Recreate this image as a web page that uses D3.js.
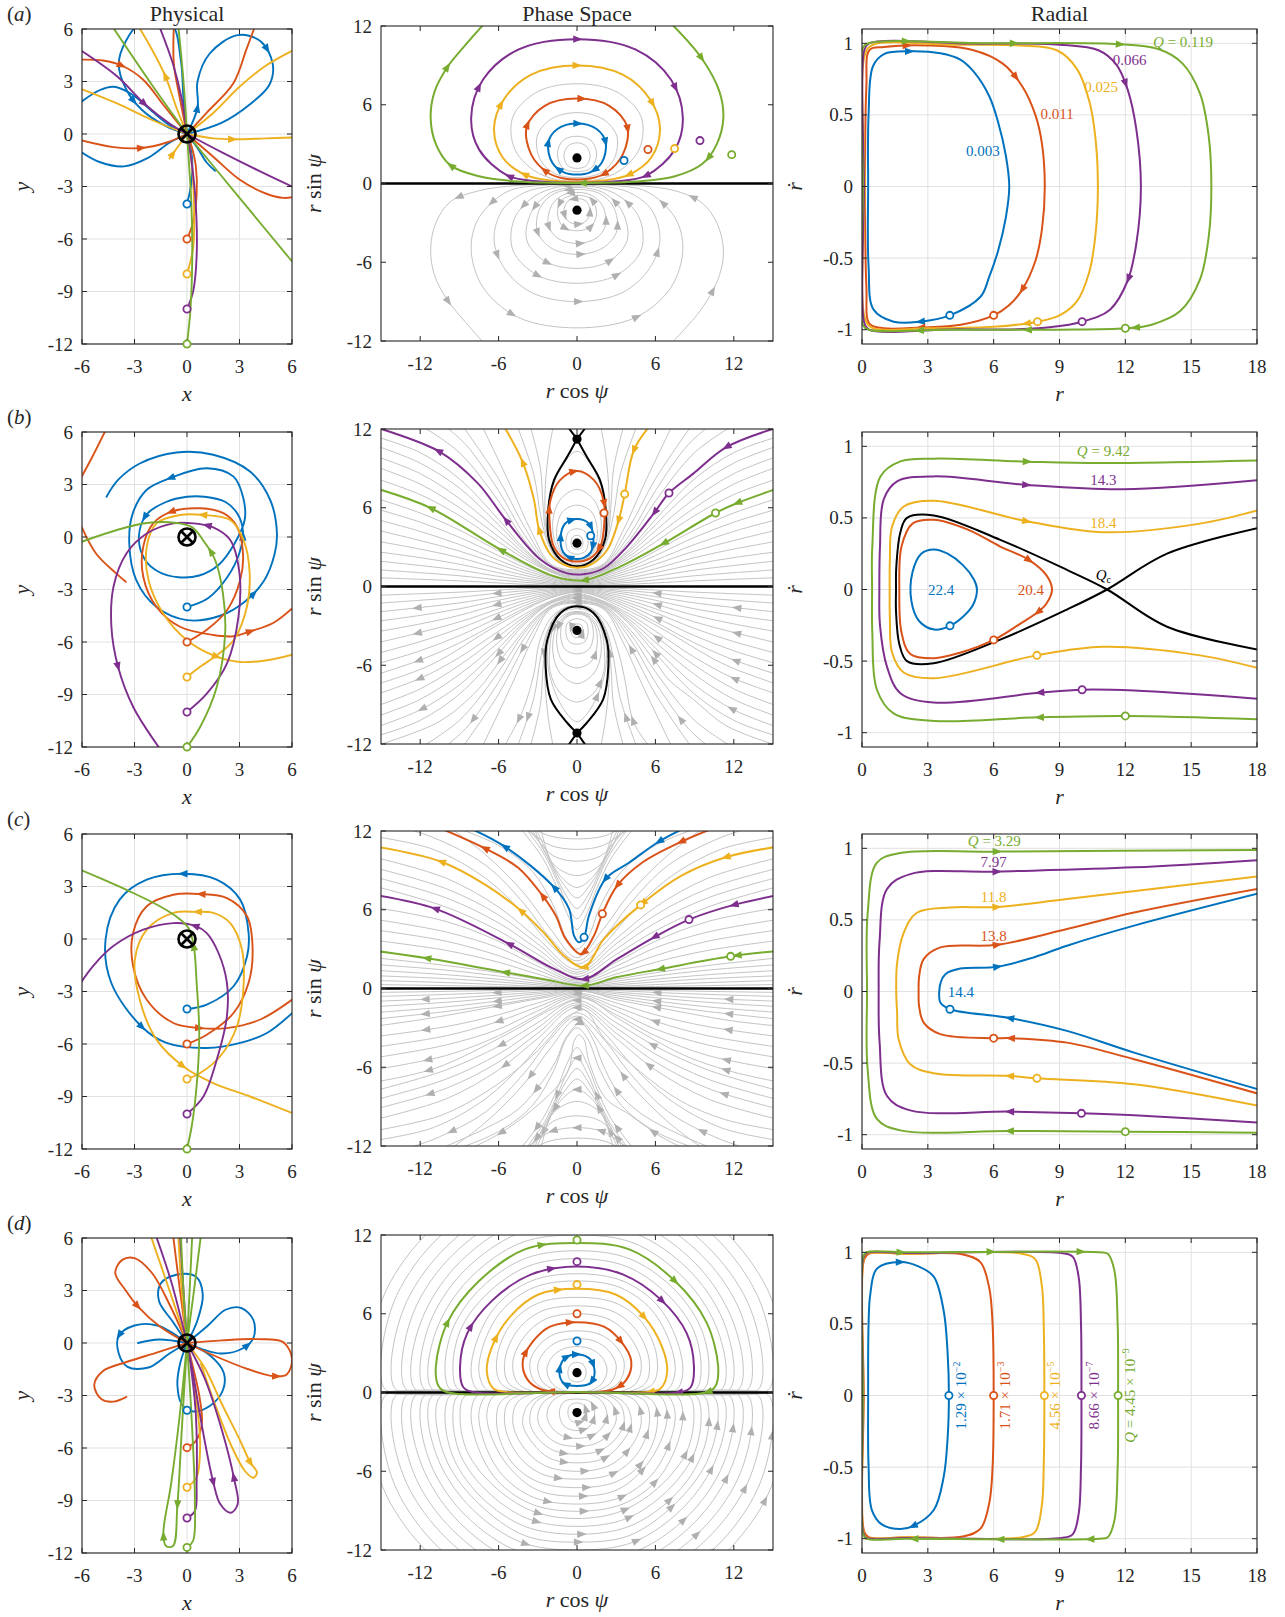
<!DOCTYPE html>
<html>
<head>
<meta charset="utf-8">
<script src="https://cdn.jsdelivr.net/npm/d3@7"></script>
<style>
  body { margin: 0; background: #fff; }
  svg text { font-family: "Liberation Serif", "Times New Roman", serif; fill: #262626; }
</style>
</head>
<body>
<svg id="fig" width="1285" height="1617"></svg>
<script>
// series order everywhere: blue, orange, yellow, purple, green
const seriesColors = ['#0072BD', '#D95319', '#EDB120', '#7E2F8E', '#77AC30']
const grayLine = '#c4c4c4'
const grayArrow = '#b0b0b0'

const physXTicks = [-6, -3, 0, 3, 6]
const physYTicks = [-12, -9, -6, -3, 0, 3, 6]
const phaseTicks = [-12, -6, 0, 6, 12]
const radXTicks = [0, 3, 6, 9, 12, 15, 18]
const radYTicks = [-1, -0.5, 0, 0.5, 1]
const rowLabels = ['(a)', '(b)', '(c)', '(d)']
const colTitles = ['Physical', 'Phase Space', 'Radial']

// ---------------- physical space (segments per series) ----------------
const physA = [
  [[[0,-4],[0.25,-2.8],[0.3,-1.5],[0.15,-0.5],[0,0]],
   [[0,0],[-0.2,2],[-0.35,4.2],[-0.9,6.3],[-2.5,6.5],[-3.5,5.3],[-3.9,4.0],[-3.5,2.6],[-2.6,1.4],[-1.2,0.45],[0,0]],
   [[0,0],[0.6,1.5],[0.6,3.0],[1.3,4.6],[2.9,5.65],[4.2,5.3],[4.9,4.0],[4.7,2.8],[3.6,1.7],[2.0,0.65],[0,0]],
   [[-6.1,1.8],[-5,2.5],[-4.2,2.7],[-3.2,2.3],[-2,1.3],[-1,0.5],[0,0]],
   [[-6.1,-1.0],[-5,-1.6],[-3.6,-1.85],[-2.2,-1.35],[-1,-0.5],[0,0]],
   [[0,0],[0.6,-0.8],[1.1,-1.6],[1.6,-2.1]]],
  [[[0,-6],[0.3,-5.2],[0.55,-3.5],[0.5,-1.8],[0.2,-0.5],[0,0]],
   [[0,0],[-0.4,2],[-0.75,4],[-0.75,6.2]],
   [[0,0],[1.13,1.22],[2.65,2.9],[3.4,4.85],[3.9,6.2]],
   [[-6.1,4.25],[-4.8,4.2],[-3.7,3.9],[-2.5,3.1],[-1.3,1.6],[0,0]],
   [[-6.1,-0.35],[-4.2,-0.75],[-2.6,-0.8],[-1.2,-0.5],[0,0]],
   [[0,0],[1.5,-1.3],[3.0,-2.6],[4.5,-3.4],[5.5,-3.65],[6.1,-3.6]]],
  [[[0,-8],[0.35,-6.5],[0.4,-4],[0.25,-1.5],[0,0]],
   [[0,0],[1.5,-0.25],[2.65,-0.3],[4.5,-0.25],[6.1,-0.2]],
   [[0,0],[1.5,1.2],[3.0,2.7],[4.5,3.9],[6.1,4.8]],
   [[-6.1,2.6],[-4,1.75],[-2,0.8],[0,0]],
   [[0,0],[-0.6,1.5],[-1.26,3.36],[-2.1,5.0],[-2.8,6.2]],
   [[-1.0,-1.4],[-0.5,-0.7],[0,0]]],
  [[[0,-10],[0.35,-9],[0.55,-7],[0.5,-4],[0.25,-1.5],[0,0]],
   [[0,0],[2,-1.05],[4,-2.05],[6.1,-3.05]],
   [[-6.1,4.8],[-4,3.3],[-2.4,1.7],[-1,0.6],[0,0]],
   [[0,0],[-0.3,2],[-0.8,4],[-1.6,6.2]]],
  [[[0,-12],[0.2,-10],[0.3,-7],[0.25,-4],[0.1,-1.5],[0,0]],
   [[0,0],[3,-3.65],[6.1,-7.4]],
   [[0,0],[-2,2.8],[-4.3,6.2]],
   [[0,0],[-0.2,3],[-0.5,6.2]]]
]
const physAArrows = [[[4.56,4.85],[0.6,1.5],[-3.07,1.8]], [[-3.7,3.9],[-2.6,-0.8]], [[2.65,-0.3],[-1.26,3.36],[-0.8,-1.15]], [[-2.4,1.7]], []]

const physB = [
  [[[0,-4],[1.2,-3.5],[2.3,-2.3],[3.0,-0.9],[3.2,0.3],[2.9,1.3],[2.2,2.0],[1.0,2.3],[0,2.3],[-1.2,2.0],[-2.3,1.3],[-2.75,0],[-2.4,-1.3],[-1.6,-2.0],[-0.5,-2.3],[0.7,-2.2],[1.8,-1.6],[2.7,-0.4],[3.3,1.0],[3.2,2.3],[2.66,3.45],[1.13,3.93],[-0.98,3.36],[-2.3,2.7],[-3.1,1.35],[-3.3,-0.36],[-2.9,-2.46],[-1.74,-4.0],[0,-4.75],[1.9,-4.5],[3.3,-3.7],[4.4,-2.5],[5.0,-1.0],[5.14,0.2],[4.76,2.1],[3.6,3.74],[1.5,4.7],[-0.6,4.83],[-2.7,4.2],[-3.94,3.26],[-4.6,2.3]]],
  [[[0,-6],[1.13,-5.3],[2.28,-4.2],[3.04,-2.46],[3.2,-0.94],[2.85,0.6],[2.08,1.36],[0.75,1.64],[-0.88,1.45],[-1.93,0.78],[-2.5,-0.55],[-2.5,-2.27],[-1.74,-4.0],[-0.4,-5.13],[1.5,-5.6],[2.66,-5.67],[3.6,-5.4],[4.95,-4.9],[6.1,-4.0]],
   [[-4.65,6.1],[-5.4,4.6],[-6.1,3.3]],
   [[-6.1,0.75],[-5.2,-0.94],[-4.05,-2.08],[-3.5,-2.56]]],
  [[[0,-8],[0.75,-7.42],[1.7,-6.76],[2.66,-5.9],[3.42,-4.0],[3.58,-2.08],[3.23,-0.17],[2.47,0.97],[0.94,1.26],[-0.4,1.26],[-1.74,0.78],[-2.3,-0.55],[-2.2,-2.46],[-1.36,-4.37],[0,-5.9],[1.5,-6.76],[3.04,-7.14],[4.57,-7.04],[6.1,-6.7]]],
  [[[0,-10],[1.13,-8.95],[2.28,-7.23],[2.94,-4.56],[3.0,-2.08],[2.47,-0.17],[1.5,0.55],[0.36,0.78],[-0.78,0.78],[-2.3,0.2],[-3.46,-0.94],[-4.2,-2.84],[-4.32,-5.13],[-3.94,-7.42],[-3.08,-9.7],[-1.55,-12.1]]],
  [[[0,-12],[0.75,-10.86],[1.7,-8.57],[2.18,-5.5],[2.05,-3.2],[1.6,-1.3],[1.0,-0.3],[0.3,0.55],[-0.6,0.8],[-2.3,0.8],[-4.0,0.4],[-6.1,-0.3]]]
]
const physBArrows = [[[3.23,0],[-0.98,3.36],[-2.5,1.16],[3.9,-3.4]], [[-0.88,1.45],[3.6,-5.4]], [[0.94,1.26],[1.7,-6.9]], [[1.13,0.4],[-3.94,-7.42]], [[1.28,-0.84]]]

const physC = [
  [[[0,-4],[1.13,-3.75],[2.66,-2.7],[3.43,-1.0],[3.52,0.34],[3.04,2.25],[1.7,3.39],[-0.2,3.73],[-2.3,3.39],[-3.85,2.25],[-4.65,0],[-4.33,-2.5],[-2.6,-5.0],[-1.17,-5.94],[1.13,-6.23],[3.04,-5.94],[4.57,-5.37],[6.1,-4.15]]],
  [[[0,-6],[1.13,-5.47],[2.66,-4.23],[3.52,-2.5],[3.75,-0.6],[3.43,1.3],[2.28,2.34],[0.75,2.57],[-0.78,2.53],[-2.3,1.87],[-3.08,0.34],[-3.08,-1.56],[-2.3,-3.47],[-0.78,-4.8],[0.75,-5.09],[2.28,-5.09],[4.19,-4.6],[6.1,-3.4]]],
  [[[0,-8],[0.75,-7.66],[1.9,-6.7],[2.85,-5.0],[3.23,-2.7],[3.14,-0.6],[2.47,0.91],[1.5,1.49],[0.55,1.55],[-0.78,1.49],[-2.3,0.53],[-2.98,-1.18],[-2.7,-3.47],[-1.74,-5.75],[-0.21,-7.28],[1.5,-8.23],[3.6,-9.0],[6.1,-9.98]]],
  [[[0,-10],[0.94,-9.0],[1.7,-6.9],[2.28,-4.42],[2.28,-2.5],[1.8,-0.8],[1.13,0.34],[0.46,0.75],[-0.78,0.91],[-2.5,0.53],[-4.23,-0.42],[-5.38,-1.56],[-6.1,-2.55]]],
  [[[0,-12],[0.27,-10.7],[0.55,-8.4],[0.7,-5.37],[0.55,-2.5],[0.4,-0.5],[0.1,0.6],[-0.5,1.2],[-1.55,1.87],[-3.27,2.72],[-5.0,3.49],[-6.1,3.95]]]
]
const physCArrows = [[[-0.2,3.73],[-2.6,-5.0]], [[0.75,2.57],[0.75,-5.09]], [[0.55,1.52],[-0.21,-7.28]], [[0.46,0.75]], [[0.45,-0.45]]]

const physD = [
  [[[0,0],[-0.4,-1.2],[-0.55,-2.4],[-0.3,-3.5],[0.3,-3.9],[1.3,-3.6],[2.05,-2.7],[2.1,-1.7],[1.3,-0.7],[0,0]],
   [[0,0],[-0.8,1.2],[-1.6,2.4],[-1.5,3.4],[-0.6,3.9],[0.5,3.8],[0.9,2.8],[0.6,1.3],[0,0]],
   [[0,0],[1.9,-0.6],[3.2,-0.3],[3.8,0.3],[3.8,1.3],[3.1,2.0],[2.2,1.9],[1.2,1.0],[0,0]],
   [[0,0],[-1.7,1.0],[-3.0,1.0],[-3.9,0.4],[-3.9,-0.6],[-3.4,-1.36],[-2.2,-1.4],[-1.0,-0.6],[0,0]],
   [[-2.8,0],[-1.6,0.2],[0,0]]],
  [[[0,-5.98],[0.5,-5.6],[0.85,-4.6],[0.7,-3],[0.3,-1.2],[0,0]],
   [[0,0],[-1.74,-0.55],[-3.5,-1.1],[-4.8,-1.6],[-5.3,-2.4],[-4.9,-3.2],[-4.2,-3.35],[-3.46,-3.08]],
   [[0,0],[1.5,-0.7],[3.5,-1.5],[5.0,-1.9],[5.7,-1.8],[6.0,-0.9],[5.5,0.05],[4,0.22],[2,0.15],[0,0]],
   [[0,0],[-0.9,2.0],[-2.0,4.0],[-3.0,4.85],[-3.7,4.75],[-4.1,4.0],[-3.5,3.0],[-2.8,2.08],[-1.55,0.94],[0,0]],
   [[0,0],[-0.4,3],[-0.8,6.2]]],
  [[[0,-8.24],[0.55,-7.66],[0.75,-5.75],[0.5,-3],[0.2,-1],[0,0]],
   [[0,0],[1.0,-1.4],[2.0,-3.5],[3.0,-5.5],[3.6,-6.8],[4.0,-7.4],[3.8,-7.7],[3.3,-7.3],[2.5,-5.8],[1.6,-3.5],[0.8,-1.2]],
   [[0,0],[-1.0,3],[-2.1,6.2]],
   [[0,0],[-0.3,3],[-0.5,6.2]]],
  [[[0,-10],[0.45,-9.6],[0.55,-8],[0.5,-4],[0.2,-1.2],[0,0]],
   [[0,0],[0.3,-1.5],[0.9,-5.0],[1.5,-7.95],[1.9,-9.2],[2.5,-9.7],[2.9,-9.2],[2.7,-7.8],[2.0,-5.0],[1.0,-2.0],[0,0]],
   [[0,0],[-0.9,3.5],[-1.8,6.2]],
   [[0,0],[-0.2,3],[-0.4,6.2]]],
  [[[0,-11.68],[0.35,-11.3],[0.45,-9.0],[0.3,-5.0],[0.1,-1.5],[0,0]],
   [[0,0],[-0.3,-5],[-0.55,-9.3],[-0.8,-11.6],[-1.2,-11.6],[-1.35,-10.9],[-0.9,-8],[-0.4,-4],[0,0]],
   [[0,0],[0.4,3],[0.8,6.2]],
   [[0,0],[0.15,3],[0.3,6.2]],
   [[0,0],[-0.2,3],[-0.35,6.2]]]
]
const physDArrows = [[[3.43,-0.1],[-3.75,0.36]], [[-2.8,2.08],[5.14,-1.84]], [[3.5,-6.9]], [[1.5,-7.95],[2.66,-7.66]], [[-0.45,-9.3],[-1.36,-11.0]]]

const physStarts = [[0,-4],[0,-6],[0,-8],[0,-10],[0,-12]]
const physStartsD = [[0,-3.84],[0,-5.98],[0,-8.24],[0,-10],[0,-11.68]]

// ---------------- phase space ----------------
// row (a): right halves of closed loops, top -> bottom
const aPhaseLoops = [
  [[0,4.57],[1.5,4.15],[2.2,3.1],[1.9,1.6],[1.0,0.85],[0,0.68]],
  [[0,6.47],[2.5,5.9],[3.85,4.3],[3.5,2.2],[2.2,0.8],[1.0,0.38],[0,0.3]],
  [[0,9.0],[3.5,8.3],[5.6,6.4],[6.35,4.2],[5.7,2.0],[4.0,0.68],[2.0,0.22],[0,0.12]],
  [[0,11.0],[4.5,10.2],[7.2,7.9],[8.1,5.0],[7.5,2.6],[5.3,0.6],[2.8,0.15],[0,0.06]]
]
const aPhaseGreen = [[7.0,12.4],[9.5,9.6],[10.9,7.0],[11.2,5.0],[10.7,3.0],[9.6,1.5],[7.5,0.55],[4.5,0.15],[0,0.04],[-4.5,0.15],[-7.5,0.55],[-9.7,1.4],[-10.8,3.0],[-11.2,5.0],[-10.9,7.0],[-9.9,8.9],[-8.5,10.6],[-6.9,12.4]]
const aPhaseGray = [
  [[0,3.1],[0.7,2.85],[1.0,2.1],[0.7,1.35],[0,1.15]],
  [[0,3.6],[1.05,3.3],[1.5,2.3],[1.1,1.2],[0,0.9]],
  [[0,5.4],[2.0,4.9],[3.05,3.6],[2.8,1.8],[1.7,0.75],[0,0.45]],
  [[0,7.6],[3.0,7.0],[4.9,5.1],[4.8,2.7],[3.3,1.0],[1.5,0.28],[0,0.2]]
]
const aPhaseArrows = [
  [[0,4.57],[2.19,3.1],[1.3,1.07],[-1.38,1.07],[-2.19,3.1]],
  [[0.3,6.45],[3.6,4.1],[2.07,0.81],[-2.58,0.86],[-3.55,4.4]],
  [[0,9.0],[5.5,5.94],[3.98,0.69],[-4.1,0.65],[-5.7,5.9]],
  [[0,11.0],[7.17,7.16],[5.26,0.56],[-5.2,0.55],[-7.24,7.16]],
  [[-9.97,8.93],[-9.67,1.32],[0.4,0.04],[10.2,1.83],[9.46,9.57]]
]
const aPhaseStarts = [[3.6,1.75],[5.43,2.59],[7.47,2.66],[9.41,3.27],[11.84,2.2]]
const aPhaseDots = [[0,1.95],[0,-2.03]]

// row (b)
const bPhaseBlue = [[0,5.14],[0.9,4.8],[1.25,3.8],[1.05,2.6],[0.55,2.2],[0,2.1]]
const bPhaseOrange = [[0,8.8],[1.3,8.1],[2.05,6.5],[2.1,5.0],[1.8,3.1],[1.0,2.15],[0,1.9]]
const bPhaseYellow = [[5.7,12.4],[4.36,10.4],[3.65,7.04],[3.2,5.09],[2.32,2.8],[1.05,1.66],[0,1.42],[-1.1,1.7],[-2.0,2.4],[-2.9,4.33],[-3.29,6.6],[-4.18,9.53],[-5.7,12.4]]
const bPhasePurple = [[15.3,12.1],[11.4,10.6],[8.9,8.6],[7.04,7.12],[5.9,5.6],[3.85,3.06],[2.07,1.41],[0.6,0.95],[-0.74,1.0],[-2.78,2.04],[-5.46,5.09],[-7.6,7.88],[-10.56,10.3],[-15.3,12.1]]
const bPhaseGreen = [[15.3,7.45],[12.27,6.36],[10.6,5.6],[6.66,3.3],[3.34,1.54],[0.5,0.47],[-1.76,0.78],[-5.84,2.8],[-11.2,5.98],[-15.3,7.45]]
const bLensUp = [[0,11.23],[0.74,9.9],[1.76,8.1],[2.2,5.85],[2.14,3.56],[1.25,2.04],[0,1.54]]
const bLensDown = [[0,-11.16],[0.74,-10.4],[2.0,-8.6],[2.4,-6.1],[2.27,-4.05],[1.25,-2.0],[0,-1.5]]
const bPhaseDots = [[0,11.23],[0,3.3],[0,-3.35],[0,-11.16]]
const bGrayU = [
  [[0,0.4],[2,0.85],[4,1.65],[6,2.7],[9,4.3],[12,5.6],[15.3,6.7]],
  [[0,0.34],[2,0.75],[4,1.45],[6,2.35],[9,3.75],[12,4.9],[15.3,5.9]],
  [[0,0.29],[2,0.64],[4,1.25],[6,2.0],[9,3.2],[12,4.2],[15.3,5.1]],
  [[0,0.24],[2,0.54],[4,1.05],[6,1.7],[9,2.7],[12,3.5],[15.3,4.3]],
  [[0,0.19],[2,0.44],[4,0.85],[6,1.35],[9,2.2],[12,2.85],[15.3,3.45]],
  [[0,0.15],[2,0.34],[4,0.65],[6,1.05],[9,1.7],[12,2.2],[15.3,2.65]],
  [[0,0.11],[2,0.25],[4,0.48],[6,0.77],[9,1.25],[12,1.6],[15.3,1.95]],
  [[0,0.07],[2,0.17],[4,0.32],[6,0.5],[9,0.82],[12,1.05],[15.3,1.28]],
  [[0,0.04],[2,0.09],[4,0.17],[6,0.27],[9,0.43],[12,0.55],[15.3,0.67]],
  [[0,0.55],[2,1.1],[4,2.1],[6,3.4],[9,5.4],[12,7.0],[15.3,8.2]],
  [[0,0.62],[2,1.15],[4,2.3],[6,3.8],[9,6.0],[12,7.8],[15.3,9.1]],
  [[0,0.7],[2,1.2],[4,2.5],[6,4.25],[9,6.7],[12,8.6],[15.3,9.9]],
  [[0,0.78],[2,1.25],[4,2.7],[6,4.7],[9,7.5],[12,9.4],[15.3,10.7]],
  [[0,0.86],[2,1.3],[4,2.85],[6,5.1],[9,8.2],[12,10.2],[15.3,11.4]],
  [[0,1.05],[2,1.48],[4,3.5],[6,6.5],[9,10.2],[12,12.3]],
  [[0,1.12],[2,1.55],[4,3.9],[6,7.3],[8.5,10.8],[10.2,12.3]],
  [[0,1.2],[2,1.62],[4,4.5],[6,8.2],[8.8,12.3]],
  [[0,1.28],[2,1.7],[3.5,4.2],[5,7.5],[7.3,12.3]],
  [[0,1.44],[1.2,1.75],[2.2,3.2],[2.8,5.5],[3.3,8.5],[4.6,12.3]],
  [[0,1.48],[1.3,1.85],[2.3,3.7],[2.6,6.2],[2.8,9.0],[3.6,12.3]],
  [[0,1.52],[1.35,2.0],[2.3,4.2],[2.45,7.0],[2.2,10],[1.8,12.3]]
]
const bGrayLens = [
  [[0,10.3],[1.05,9.3],[2.15,6.5],[2.15,4.0],[1.25,2.1],[0,1.7]],
  [[0,7.4],[1.3,6.6],[1.85,5.0],[1.6,3.1],[0.85,2.2],[0,1.97]],
  [[0,6.2],[1.1,5.7],[1.55,4.4],[1.35,2.9],[0.7,2.2],[0,2.04]],
  [[0,4.4],[0.6,4.2],[0.85,3.5],[0.7,2.75],[0,2.45]],
  [[0,3.9],[0.35,3.75],[0.45,3.3],[0.35,2.95],[0,2.85]]
]
const bPhaseArrows = [
  [[-0.48,5.2],[1.17,4.6],[0.92,3.06],[-0.61,2.3],[-1.25,3.8]],
  [[-0.3,8.8],[2.0,6.35],[1.76,2.75],[-2.07,5.85]],
  [[-4.18,9.53],[-2.9,4.33],[3.2,5.09],[4.36,10.4]],
  [[11.4,10.6],[5.9,5.6],[-5.46,5.09],[-10.56,10.3]],
  [[12.27,6.36],[6.66,3.3],[0.54,0.45],[-5.84,2.8],[-11.2,5.98]]
]
const bPhaseStarts = [[1.05,3.87],[2.07,5.6],[3.65,7.04],[7.04,7.12],[10.6,5.6]]

// row (c)
const cPhase = [
  [[8.6,12.4],[6.28,11.2],[4.0,9.6],[2.19,8.36],[0.92,5.56],[0.54,3.9],[0.15,3.52],[-0.23,4.03],[-0.61,6.07],[-1.76,7.72],[-5.46,10.77],[-8.6,12.4]],
  [[10.8,12.35],[7.93,11.16],[5.0,9.6],[3.09,7.85],[1.94,5.69],[1.3,4.03],[0.3,2.63],[-0.87,3.78],[-1.6,5.5],[-2.65,7.09],[-4.5,9.2],[-6.99,10.65],[-10.8,12.35]],
  [[15.3,10.8],[11.38,10.0],[8,8.6],[4.87,6.37],[2.07,3.78],[0.54,1.62],[-1.0,2.5],[-2.5,4.2],[-4.31,5.94],[-7,7.9],[-10.43,9.68],[-15.3,10.8]],
  [[15.3,7.1],[12.0,6.37],[8.57,5.25],[5.89,3.9],[3,2.2],[0.54,0.72],[-1.76,1.49],[-5.2,3.4],[-10.82,6.07],[-15.3,7.1]],
  [[15.3,2.85],[11.76,2.45],[6.4,1.49],[3,0.85],[0.54,0.22],[-2.5,0.7],[-5.46,1.23],[-11.45,2.3],[-15.3,2.85]]
]
const cGrayU = [
  [[0,0.18],[3,0.7],[6,1.2],[10,1.75],[15.3,2.32]],
  [[0,0.14],[3,0.55],[6,0.95],[10,1.4],[15.3,1.82]],
  [[0,0.1],[3,0.4],[6,0.7],[10,1.05],[15.3,1.37]],
  [[0,0.07],[3,0.28],[6,0.5],[10,0.75],[15.3,0.97]],
  [[0,0.04],[3,0.16],[6,0.3],[10,0.45],[15.3,0.61]],
  [[0,0.02],[3,0.08],[6,0.15],[10,0.22],[15.3,0.3]],
  [[0,0.35],[3,1.1],[6,2.0],[10,2.9],[15.3,3.65]],
  [[0,0.45],[3,1.4],[6,2.5],[10,3.6],[15.3,4.45]],
  [[0,0.55],[3,1.7],[6,3.1],[10,4.3],[15.3,5.25]],
  [[0,0.65],[3,2.0],[6,3.6],[10,5.1],[15.3,6.15]],
  [[0,0.9],[3,2.6],[6,4.4],[10,6.2],[15.3,7.75]],
  [[0,1.1],[3,3.0],[6,5.0],[10,6.9],[15.3,8.45]],
  [[0,1.25],[3,3.4],[6,5.6],[10,7.6],[15.3,9.15]],
  [[0,1.45],[3,3.8],[6,6.2],[10,8.4],[15.3,9.95]],
  [[0,1.85],[2,3.3],[4,5.6],[7,8.4],[11,10.6],[15.3,11.55]],
  [[0,2.1],[2,3.8],[4,6.4],[7,9.4],[11,11.5],[13.5,12.3]],
  [[0,2.35],[2,4.5],[4,7.2],[7,10.2],[9.8,12.3]],
  [[0,3.0],[0.8,3.8],[1.8,6.3],[3.4,8.9],[6,10.9],[9.4,12.3]],
  [[0,4.5],[0.8,5.8],[1.5,7.6],[2.6,9.9],[4.4,12.3]],
  [[0,5.3],[0.8,6.5],[1.5,8.1],[2.5,10.2],[4.0,12.3]],
  [[0,6.1],[0.9,7.2],[1.6,8.6],[2.5,10.5],[3.6,12.3]],
  [[0,6.9],[1.0,7.9],[1.8,9.2],[2.5,10.8],[3.2,12.3]],
  [[0,7.7],[1.3,8.6],[2.2,10.2],[2.8,12.3]],
  [[0,8.6],[1.5,9.2],[2.6,10.6],[3.3,12.3]],
  [[0,9.7],[1.8,10.1],[3,11.3],[3.8,12.3]],
  [[0,10.6],[2,10.9],[3.4,11.8],[4.2,12.3]],
  [[0,11.4],[2,11.6],[3.6,12.3]]
]
const cPhaseArrows = [
  [[-5.46,10.77],[-1.76,7.72],[2.19,8.36],[6.28,11.2]],
  [[-6.99,10.65],[-2.65,7.09],[0.5,2.65],[3.09,7.85],[7.93,11.16]],
  [[-10.43,9.68],[-4.31,5.94],[0.5,1.65],[5.0,6.45],[11.38,10.0]],
  [[-10.82,6.07],[-5.2,3.4],[0.54,0.75],[5.89,3.9],[12.0,6.37]],
  [[-11.45,2.3],[-5.46,1.23],[0.54,0.25],[6.4,1.49],[12.2,2.5]]
]
const cPhaseStarts = [[0.54,3.9],[1.94,5.69],[4.87,6.37],[8.57,5.25],[11.76,2.45]]

// row (d): right halves of D-shaped loops
const dPhaseLoops = [
  [[0,2.9],[1.0,2.55],[1.35,1.5],[1.0,0.7],[0,0.5]],
  [[0,5.36],[2.1,5.0],[3.4,3.85],[4.15,2.4],[3.8,1.0],[2.8,0.25],[1.4,0.04],[0,0.03]],
  [[0,7.9],[3.0,7.45],[5.1,5.8],[6.5,3.5],[6.9,1.6],[6.4,0.3],[5.5,0.04],[0,0.03]],
  [[0,9.6],[3.5,9.0],[6.5,7.0],[8.4,4.5],[8.95,2.0],[8.7,0.4],[8.0,0.04],[0,0.03]],
  [[0,11.4],[4.0,10.9],[7.54,8.45],[9.9,5.36],[10.8,2.0],[10.6,0.5],[10.0,0.04],[0,0.03]]
]
const dGrayLoops = [
  [[0,2.3],[0.5,2.1],[0.7,1.5],[0.5,0.95],[0,0.8]],
  [[0,3.5],[1.1,3.3],[1.9,2.7],[2.3,1.8],[2.0,0.8],[1.2,0.2],[0,0.05]],
  [[0,4.1],[1.4,3.9],[2.4,3.2],[3.0,2.1],[2.7,0.9],[1.7,0.2],[0,0.04]],
  [[0,4.7],[1.7,4.45],[2.9,3.6],[3.6,2.3],[3.3,0.9],[2.2,0.15],[0,0.03]],
  [[0,6.0],[2.4,5.6],[4.0,4.3],[4.9,2.4],[4.6,0.8],[3.4,0.1],[0,0.03]],
  [[0,6.6],[2.7,6.2],[4.5,4.8],[5.5,2.6],[5.3,0.8],[4.0,0.08],[0,0.03]],
  [[0,7.25],[3.0,6.8],[5.0,5.3],[6.1,2.8],[5.9,0.8],[4.6,0.07],[0,0.03]],
  [[0,8.5],[3.3,8.0],[5.7,6.3],[7.1,3.8],[7.5,1.5],[6.9,0.2],[5.5,0.03],[0,0.03]],
  [[0,9.05],[3.5,8.5],[6.1,6.7],[7.6,4.1],[8.1,1.5],[7.6,0.2],[6.0,0.03],[0,0.03]],
  [[0,10.2],[3.8,9.6],[6.9,7.5],[8.9,4.8],[9.5,2.0],[9.2,0.35],[8.4,0.03],[0,0.03]],
  [[0,10.8],[4.0,10.2],[7.3,8.0],[9.4,5.1],[10.1,2.1],[9.8,0.35],[9.0,0.03],[0,0.03]],
  [[0,12],[4.3,11.4],[8.0,8.9],[10.4,5.6],[11.4,2.1],[11.2,0.4],[10.6,0.03],[0,0.03]],
  [[0,12.7],[4.5,12.1],[8.5,9.4],[11.0,5.9],[12.0,2.2],[11.8,0.4],[11.2,0.03],[0,0.03]],
  [[0,13.4],[4.8,12.8],[9.0,9.9],[11.6,6.2],[12.7,2.3],[12.5,0.4],[11.9,0.03],[0,0.03]],
  [[0,14.2],[5.1,13.5],[9.5,10.5],[12.3,6.6],[13.4,2.4],[13.2,0.4],[12.6,0.03],[0,0.03]],
  [[0,15],[5.4,14.3],[10.0,11.1],[13.0,7.0],[14.2,2.5],[14.0,0.4],[13.4,0.03],[0,0.03]],
  [[0,15.9],[5.7,15.1],[10.6,11.8],[13.8,7.4],[15.0,2.6],[14.8,0.4],[14.2,0.03],[0,0.03]],
  [[0,16.8],[6,16],[11.2,12.4],[14.6,7.8],[15.9,2.8],[15.6,0.4],[15,0.03],[0,0.03]]
]
const dPhaseArrows = [
  [[0,2.9],[1.2,2.1],[1.1,0.8],[-0.9,0.6],[-1.3,1.9],[-0.8,2.7]],
  [[-0.48,5.36],[3.34,3.84],[3.2,0.55],[-2.01,0.04],[-3.92,3.08]],
  [[-1.38,7.77],[5.12,5.74],[5.63,0.04],[-6.4,4.22]],
  [[-1.89,9.5],[6.52,7.06],[7.8,0.04],[-8.13,4.98]],
  [[-2.57,11.1],[7.54,8.45],[9.96,0.04],[-9.9,5.36]]
]
const dPhaseStarts = [[0,3.92],[0,6.0],[0,8.22],[0,9.97],[0,11.62]]
const dPhaseDots = [[0,1.51],[0,-1.53]]

// ---------------- radial ----------------
const radA = [
  [[4.0,-0.9],[2.66,-0.944],[1.44,-0.944],[0.53,-0.86],[0.3,-0.56],[0.28,0],[0.3,0.5],[0.5,0.84],[1.0,0.925],[2.2,0.944],[3.57,0.93],[4.48,0.886],[5.1,0.8],[5.8,0.63],[6.2,0.45],[6.55,0.22],[6.71,0],[6.55,-0.22],[6.2,-0.45],[5.8,-0.63],[5.4,-0.77]],
  [[6.0,-0.9],[4.5,-0.965],[2.66,-0.985],[1.0,-0.99],[0.35,-0.96],[0.2,-0.7],[0.2,0.7],[0.35,0.955],[1.0,0.975],[3.0,0.985],[5.0,0.955],[6.4,0.86],[7.3,0.7],[7.9,0.5],[8.2,0.3],[8.33,0],[8.2,-0.3],[7.9,-0.52],[7.3,-0.72],[6.7,-0.83]],
  [[8.0,-0.944],[6,-0.98],[3,-0.99],[0.5,-0.99],[0.15,-0.93],[0.13,0],[0.15,0.93],[0.5,0.99],[4,0.99],[7.2,0.985],[8.9,0.95],[9.8,0.82],[10.35,0.6],[10.63,0.35],[10.75,0],[10.63,-0.35],[10.35,-0.6],[9.8,-0.8],[9.0,-0.9]],
  [[10.03,-0.944],[8,-0.99],[4,-0.998],[0.3,-0.998],[0.1,-0.95],[0.09,0],[0.1,0.95],[0.3,0.998],[5,0.998],[9,0.99],[10.8,0.95],[11.6,0.85],[12.1,0.68],[12.5,0.4],[12.71,0],[12.5,-0.4],[12.1,-0.66],[11.3,-0.86]],
  [[12.0,-0.99],[9,-1.0],[4,-1.0],[0.3,-1.0],[0.05,-0.97],[0.04,0],[0.05,0.97],[0.3,1.0],[6,1.0],[11.5,0.995],[13.5,0.96],[14.6,0.86],[15.4,0.65],[15.8,0.35],[15.92,0],[15.8,-0.35],[15.4,-0.65],[14.5,-0.87],[13.2,-0.965]]
]
const radAArrows = [[[2.2,0.944],[2.66,-0.944]], [[2.05,0.98],[6.99,0.77],[7.29,-0.72],[2.66,-0.985]], [[7.52,-0.975]], [[11.92,0.72],[12.12,-0.64]], [[2.05,1.0],[6.9,1.0],[11.77,0.995],[2.66,-1.0],[7.52,-1.0],[12.5,-0.985]]]
const radAStarts = [[4.0,-0.9],[6.0,-0.9],[8.0,-0.944],[10.03,-0.944],[12.0,-0.99]]
const radALabels = ['0.003', '0.011', '0.025', '0.066', '0.119']
const radALabelPos = [[5.51,0.25],[8.89,0.506],[10.9,0.695],[12.2,0.886],[14.63,1.01]]

const radB = [
  [[4.01,-0.254],[3.3,-0.28],[2.6,-0.22],[2.25,-0.08],[2.3,0.12],[2.7,0.25],[3.27,0.28],[3.9,0.25],[4.6,0.17],[5.1,0.07],[5.24,0],[5.05,-0.11],[4.6,-0.19]],
  [[6,-0.352],[4.5,-0.44],[3.27,-0.48],[2.2,-0.45],[1.8,-0.3],[1.7,0],[1.8,0.3],[2.3,0.46],[3.27,0.487],[4.8,0.42],[6.3,0.3],[7.6,0.207],[8.4,0.1],[8.66,0],[8.4,-0.1],[8.05,-0.154],[7.2,-0.24]],
  [[18.2,-0.555],[15.4,-0.46],[11,-0.40],[7.97,-0.46],[3.27,-0.62],[1.9,-0.58],[1.37,-0.44],[1.27,-0.2],[1.26,0],[1.27,0.2],[1.37,0.44],[1.9,0.58],[3.27,0.62],[7.52,0.476],[11,0.40],[15.4,0.46],[18.2,0.56]],
  [[18.2,-0.765],[12.4,-0.706],[10.03,-0.70],[8.13,-0.72],[3.27,-0.79],[1.75,-0.725],[1.14,-0.54],[0.82,-0.25],[0.79,0],[0.82,0.3],[0.99,0.63],[1.6,0.755],[3.27,0.79],[7.52,0.73],[11.9,0.70],[18.2,0.765]],
  [[18.2,-0.907],[12,-0.883],[8,-0.893],[3.3,-0.918],[1.44,-0.865],[0.68,-0.7],[0.47,-0.3],[0.46,0],[0.47,0.3],[0.84,0.79],[1.75,0.895],[3.27,0.914],[7.5,0.893],[10.9,0.883],[18.2,0.902]]
]
const radBSep = [[18.2,0.435],[13.9,0.25],[11.17,0],[9.34,-0.14],[6.3,-0.35],[3.27,-0.515],[2.05,-0.5],[1.7,-0.38],[1.55,-0.15],[1.55,0],[1.56,0.15],[1.75,0.4],[2.05,0.5],[3.27,0.517],[6.3,0.347],[9.34,0.137],[11.17,0],[13.9,-0.26],[18.2,-0.425]]
const radBArrows = [[], [[7.6,0.207],[8.05,-0.154]], [[7.52,0.476]], [[7.52,0.73],[8.13,-0.72]], [[7.52,0.893],[8.05,-0.893]]]
const radBStarts = [[4.01,-0.254],[6,-0.352],[7.97,-0.46],[10.03,-0.70],[12,-0.883]]
const radBLabels = ['22.4', '20.4', '18.4', '14.3', '9.42']
const radBLabelPos = [[3.6,0],[7.7,0],[11.0,0.464],[11.0,0.767],[11.0,0.97]]

const radC = [
  [[18.2,-0.69],[12.4,-0.427],[9.34,-0.275],[6.76,-0.186],[4.01,-0.124],[3.57,-0.077],[3.52,0],[3.6,0.07],[3.8,0.121],[4.48,0.16],[6.15,0.172],[7.82,0.238],[9.34,0.32],[12.4,0.46],[18.2,0.69]],
  [[18.2,-0.72],[12.4,-0.473],[9.34,-0.357],[6.76,-0.326],[6.0,-0.326],[3.57,-0.298],[2.81,-0.217],[2.6,-0.1],[2.58,0],[2.6,0.1],[2.81,0.226],[3.57,0.308],[6.15,0.326],[9.34,0.436],[12.4,0.552],[18.2,0.722]],
  [[18.2,-0.803],[12.4,-0.648],[7.97,-0.606],[6.76,-0.59],[3.27,-0.571],[2.2,-0.508],[1.67,-0.333],[1.6,-0.15],[1.56,0],[1.6,0.2],[1.9,0.41],[2.5,0.55],[4.0,0.587],[6.15,0.59],[9.34,0.646],[18.2,0.806]],
  [[18.2,-0.917],[12.4,-0.865],[10,-0.851],[6.76,-0.839],[2.2,-0.83],[1.14,-0.73],[0.8,-0.35],[0.76,0],[0.8,0.35],[1.14,0.716],[2.2,0.82],[6.15,0.837],[12.4,0.867],[18.2,0.919]],
  [[18.2,-0.986],[12,-0.979],[6.76,-0.974],[1.75,-0.97],[0.68,-0.89],[0.26,-0.55],[0.23,0],[0.26,0.55],[0.68,0.9],[1.75,0.967],[6.15,0.977],[18.2,0.988]]
]
const radCArrows = [[[6.15,0.172],[6.76,-0.186]], [[6.15,0.326],[6.76,-0.326]], [[6.15,0.59],[6.76,-0.59]], [[6.15,0.837],[6.76,-0.839]], [[6.15,0.977],[6.76,-0.974]]]
const radCStarts = [[4.01,-0.124],[6.0,-0.326],[7.97,-0.606],[10,-0.851],[12,-0.979]]
const radCLabels = ['14.4', '13.8', '11.8', '7.97', '3.29']
const radCLabelPos = [[4.51,0],[6.0,0.39],[6.0,0.657],[6.0,0.902],[6.03,1.049]]

const radD = [
  [[3.96,0],[3.9,-0.3],[3.72,-0.57],[3.27,-0.8],[2.35,-0.91],[1.75,-0.932],[0.9,-0.9],[0.45,-0.8],[0.3,-0.5],[0.28,0],[0.3,0.5],[0.38,0.71],[0.68,0.886],[1.75,0.932],[2.6,0.9],[3.27,0.83],[3.72,0.594],[3.9,0.3]],
  [[6.0,0],[5.95,-0.5],[5.8,-0.75],[5.4,-0.93],[4.6,-0.985],[2,-0.99],[0.3,-0.99],[0.1,-0.95],[0.08,0],[0.1,0.95],[0.3,0.99],[2,0.99],[4.6,0.985],[5.4,0.93],[5.8,0.75],[5.95,0.5]],
  [[8.31,0],[8.28,-0.5],[8.2,-0.76],[7.9,-0.95],[7.3,-0.99],[2,-0.99],[0.2,-0.99],[0.07,-0.95],[0.06,0],[0.07,0.95],[0.2,0.99],[2,0.99],[7.3,0.99],[7.9,0.95],[8.2,0.76],[8.28,0.5]],
  [[10,0],[9.98,-0.5],[9.87,-0.83],[9.6,-0.97],[9.1,-0.995],[2,-0.995],[0.2,-0.995],[0.06,-0.96],[0.05,0],[0.06,0.96],[0.2,0.995],[2,0.995],[9.1,0.995],[9.6,0.97],[9.87,0.83],[9.98,0.5]],
  [[11.67,0],[11.65,-0.5],[11.5,-0.874],[11.2,-0.99],[10.8,-1.0],[2,-1.0],[0.2,-1.0],[0.05,-0.97],[0.04,0],[0.05,0.97],[0.2,1.0],[2,1.0],[10.8,1.0],[11.2,0.99],[11.5,0.874],[11.65,0.5]]
]
const radDArrows = [[[1.75,0.932],[2.35,-0.91]], [], [], [], [[1.75,1],[5.85,1],[9.95,1],[2.35,-1],[6.3,-1],[10.4,-1]]]
const radDStarts = [[3.96,0],[6.0,0],[8.31,0],[10.0,0],[11.67,0]]
const radDMantissa = ['1.29', '1.71', '4.56', '8.66', '4.45']
const radDExponent = ['−2', '−3', '−5', '−7', '−9']
const radDLabelR = [4.53, 6.53, 8.81, 10.56, 12.23]

// ---------------- layout ----------------
const rowTop = [29, 432, 834, 1238]
const physBox = { x: 82, w: 210, h: 315 }
const phaseBox = { x: 381, w: 392, h: 315 }
const radBox = { x: 862, w: 395, h: 315 }

const svg = d3.select('#fig')
let clipN = 0

function panel(bx, top, xd, yd, xt, yt, grid, xlab, ylab, ylabX) {
  const x = d3.scaleLinear().domain(xd).range([bx.x, bx.x + bx.w])
  const y = d3.scaleLinear().domain(yd).range([top + bx.h, top])
  const g = svg.append('g')
  const id = 'clip' + clipN++
  g.append('clipPath').attr('id', id).append('rect')
    .attr('x', bx.x).attr('y', top).attr('width', bx.w).attr('height', bx.h)
  const gridG = g.append('g').attr('stroke', '#e1e1e1').attr('stroke-width', 1)
  if (grid) {
    gridG.selectAll('.gx').data(xt).join('line').attr('class', 'gx')
      .attr('x1', d => x(d)).attr('x2', d => x(d)).attr('y1', top).attr('y2', top + bx.h)
    gridG.selectAll('.gy').data(yt).join('line').attr('class', 'gy')
      .attr('y1', d => y(d)).attr('y2', d => y(d)).attr('x1', bx.x).attr('x2', bx.x + bx.w)
  }
  const plot = g.append('g').attr('clip-path', `url(#${id})`)
  const frame = g.append('g')
  frame.append('rect').attr('x', bx.x).attr('y', top).attr('width', bx.w).attr('height', bx.h)
    .attr('fill', 'none').attr('stroke', '#262626').attr('stroke-width', 1.1)
  const tk = 5
  xt.forEach(v => {
    frame.append('line').attr('x1', x(v)).attr('x2', x(v)).attr('y1', top + bx.h).attr('y2', top + bx.h - tk).attr('stroke', '#262626')
    frame.append('line').attr('x1', x(v)).attr('x2', x(v)).attr('y1', top).attr('y2', top + tk).attr('stroke', '#262626')
  })
  yt.forEach(v => {
    frame.append('line').attr('y1', y(v)).attr('y2', y(v)).attr('x1', bx.x).attr('x2', bx.x + tk).attr('stroke', '#262626')
    frame.append('line').attr('y1', y(v)).attr('y2', y(v)).attr('x1', bx.x + bx.w).attr('x2', bx.x + bx.w - tk).attr('stroke', '#262626')
  })
  frame.selectAll('.tx').data(xt).join('text').attr('class', 'tx')
    .attr('x', d => x(d)).attr('y', top + bx.h + 29).attr('text-anchor', 'middle')
    .style('font-size', '19px').text(d => String(d))
  frame.selectAll('.ty').data(yt).join('text').attr('class', 'ty')
    .attr('x', bx.x - 9).attr('y', d => y(d) + 6.5).attr('text-anchor', 'end')
    .style('font-size', '19px').text(d => String(d))
  const xl = frame.append('text').attr('x', bx.x + bx.w / 2).attr('y', top + bx.h + 57)
    .attr('text-anchor', 'middle').style('font-size', '22px')
  xlab.forEach(([s, it]) => xl.append('tspan').style('font-style', it ? 'italic' : 'normal').text(s))
  const yl = frame.append('text').attr('transform', `translate(${ylabX},${top + bx.h / 2}) rotate(-90)`)
    .attr('text-anchor', 'middle').style('font-size', '22px')
  ylab.forEach(([s, it]) => yl.append('tspan').style('font-style', it ? 'italic' : 'normal').text(s))
  const marks = g.append('g')
  return { x, y, plot, marks, top }
}

function lineGen(p, closed) {
  return d3.line().x(d => p.x(d[0])).y(d => p.y(d[1]))
    .curve(closed ? d3.curveCatmullRomClosed.alpha(0.5) : d3.curveCatmullRom.alpha(0.5))
}
function drawPath(p, pts, color, width, closed) {
  return p.plot.append('path').attr('d', lineGen(p, closed)(pts))
    .attr('fill', 'none').attr('stroke', color).attr('stroke-width', width)
    .attr('stroke-linejoin', 'round').attr('stroke-linecap', 'round').node()
}
function drawArrow(g, node, l, L, color) {
  const a = node.getPointAtLength(Math.max(0, l - 2))
  const b = node.getPointAtLength(Math.min(L, l + 2))
  const c = node.getPointAtLength(l)
  const ang = Math.atan2(b.y - a.y, b.x - a.x) * 180 / Math.PI
  g.append('path').attr('d', 'M5,0L-4.5,-3.7L-4.5,3.7Z')
    .attr('transform', `translate(${c.x},${c.y}) rotate(${ang})`).attr('fill', color)
}
function arrowsAt(p, nodes, pts, color) {
  if (!pts.length) return
  const samples = []
  nodes.forEach(n => {
    const L = n.getTotalLength()
    for (let l = 0; l <= L; l += 2) { const q = n.getPointAtLength(l); samples.push([n, l, q.x, q.y, L]) }
  })
  pts.forEach(([dx, dy]) => {
    const px = p.x(dx), py = p.y(dy)
    const s = d3.least(samples, s => (s[2] - px) ** 2 + (s[3] - py) ** 2)
    drawArrow(p.plot, s[0], s[1], s[4], color)
  })
}
function arrowsFrac(p, node, fracs, color) {
  const L = node.getTotalLength()
  fracs.forEach(f => drawArrow(p.plot, node, f * L, L, color))
}
function startCircle(p, pt, color) {
  p.marks.append('circle').attr('cx', p.x(pt[0])).attr('cy', p.y(pt[1])).attr('r', 3.6)
    .attr('fill', '#fff').attr('stroke', color).attr('stroke-width', 1.8)
}
function dot(p, pt) {
  p.marks.append('circle').attr('cx', p.x(pt[0])).attr('cy', p.y(pt[1])).attr('r', 4.6).attr('fill', '#000')
}
function otimes(p) {
  const cx = p.x(0), cy = p.y(0), g = p.marks.append('g').attr('stroke', '#000').attr('stroke-width', 2.6).attr('fill', 'none')
  g.append('circle').attr('cx', cx).attr('cy', cy).attr('r', 8.5)
  g.append('line').attr('x1', cx - 5.5).attr('y1', cy - 5.5).attr('x2', cx + 5.5).attr('y2', cy + 5.5)
  g.append('line').attr('x1', cx - 5.5).attr('y1', cy + 5.5).attr('x2', cx + 5.5).attr('y2', cy - 5.5)
}
function zeroLine(p) {
  p.plot.append('line').attr('x1', p.x(-15)).attr('x2', p.x(15)).attr('y1', p.y(0)).attr('y2', p.y(0))
    .attr('stroke', '#000').attr('stroke-width', 2.4)
}

const flipX = pts => pts.map(([a, b]) => [-a, b])
const flipY = pts => pts.map(([a, b]) => [a, -b])
const dLoop = half => half.concat(flipX(half.slice(1, -1)).reverse())
const uCurve = half => half.slice().reverse().concat(flipX(half.slice(1)))

// ---------------- headings ----------------
rowLabels.forEach((s, i) => {
  const t = svg.append('text').attr('x', 7).attr('y', rowTop[i] - 8).style('font-size', '21px')
  t.append('tspan').text('(')
  t.append('tspan').style('font-style', 'italic').text(s[1])
  t.append('tspan').text(')')
})
const titleX = [physBox.x + physBox.w / 2, phaseBox.x + phaseBox.w / 2, radBox.x + radBox.w / 2]
colTitles.forEach((s, i) => svg.append('text').attr('x', titleX[i]).attr('y', 21)
  .attr('text-anchor', 'middle').style('font-size', '22px').text(s))

// ---------------- physical panels ----------------
function physPanel(row, data, arrows, starts) {
  const p = panel(physBox, rowTop[row], [-6, 6], [-12, 6], physXTicks, physYTicks, true,
    [['x', true]], [['y', true]], 29)
  data.forEach((segs, i) => {
    const nodes = segs.map(s => drawPath(p, s, seriesColors[i], 1.9, false))
    arrowsAt(p, nodes, arrows[i], seriesColors[i])
  })
  starts.forEach((s, i) => startCircle(p, s, seriesColors[i]))
  otimes(p)
}
physPanel(0, physA, physAArrows, physStarts)
physPanel(1, physB, physBArrows, physStarts)
physPanel(2, physC, physCArrows, physStarts)
physPanel(3, physD, physDArrows, physStartsD)

// ---------------- phase panels ----------------
const phaseXLab = [['r', true], [' cos ', false], ['ψ', true]]
const phaseYLab = [['r', true], [' sin ', false], ['ψ', true]]
function phasePanel(row) {
  return panel(phaseBox, rowTop[row] - 3, [-15, 15], [-12, 12], phaseTicks, phaseTicks, false,
    phaseXLab, phaseYLab, 321)
}

// (a)
{
  const p = phasePanel(0)
  const uppers = aPhaseGray.map(dLoop).concat(aPhaseLoops.map(dLoop))
  uppers.forEach((pts, k) => {
    const n = drawPath(p, flipY(pts), grayLine, 1, true)
    arrowsFrac(p, n, k % 2 ? [0.002, 0.24, 0.55, 0.78] : [0.12, 0.42, 0.68, 0.9], grayArrow)
  })
  const ng = drawPath(p, flipY(aPhaseGreen), grayLine, 1, false)
  arrowsFrac(p, ng, [0.12, 0.3, 0.7, 0.9], grayArrow)
  aPhaseGray.forEach(h => drawPath(p, dLoop(h), grayLine, 1, true))
  zeroLine(p)
  aPhaseLoops.forEach((h, i) => {
    const n = drawPath(p, dLoop(h), seriesColors[i], 2, true)
    arrowsAt(p, [n], aPhaseArrows[i], seriesColors[i])
  })
  const n5 = drawPath(p, aPhaseGreen, seriesColors[4], 2, false)
  arrowsAt(p, [n5], aPhaseArrows[4], seriesColors[4])
  aPhaseStarts.forEach((s, i) => startCircle(p, s, seriesColors[i]))
  aPhaseDots.forEach(d => dot(p, d))
}

// (b)
{
  const p = phasePanel(1)
  const colored = [dLoop(bPhaseBlue), dLoop(bPhaseOrange), bPhaseYellow, bPhasePurple, bPhaseGreen]
  const uppersU = bGrayU.map(uCurve).concat([bPhaseYellow, bPhasePurple, bPhaseGreen])
  uppersU.forEach((pts, k) => {
    const n = drawPath(p, flipY(pts), grayLine, 1, false)
    if (k % 3 === 0) arrowsFrac(p, n, [0.1, 0.9], grayArrow)
    else if (k % 3 === 1) arrowsFrac(p, n, [0.3, 0.5, 0.7], grayArrow)
  })
  const lensLoops = bGrayLens.concat([bPhaseBlue, bPhaseOrange])
  lensLoops.forEach((h, k) => {
    const n = drawPath(p, flipY(dLoop(h)), grayLine, 1, true)
    if (k % 2 === 0) arrowsFrac(p, n, [0.05, 0.55], grayArrow)
  })
  bGrayU.forEach(h => drawPath(p, uCurve(h), grayLine, 1, false))
  bGrayLens.forEach(h => drawPath(p, dLoop(h), grayLine, 1, true))
  zeroLine(p)
  const lensPath = h => h.concat(flipX(h.slice(0, -1)).reverse())
  drawPath(p, lensPath(bLensUp), '#000', 2, false)
  drawPath(p, lensPath(bLensDown), '#000', 2, false)
  p.plot.append('path').attr('d', d3.line().x(d => p.x(d[0])).y(d => p.y(d[1]))([[-0.95, 12.5], [0, 11.23], [0.95, 12.5]]))
    .attr('fill', 'none').attr('stroke', '#000').attr('stroke-width', 2)
  p.plot.append('path').attr('d', d3.line().x(d => p.x(d[0])).y(d => p.y(d[1]))([[-0.95, -12.5], [0, -11.16], [0.95, -12.5]]))
    .attr('fill', 'none').attr('stroke', '#000').attr('stroke-width', 2)
  colored.forEach((pts, i) => {
    const n = drawPath(p, pts, seriesColors[i], 2, i < 2)
    arrowsAt(p, [n], bPhaseArrows[i], seriesColors[i])
  })
  bPhaseStarts.forEach((s, i) => startCircle(p, s, seriesColors[i]))
  bPhaseDots.forEach(d => dot(p, d))
}

// (c)
{
  const p = phasePanel(2)
  const uppers = cGrayU.map(uCurve).concat(cPhase)
  uppers.forEach((pts, k) => {
    const n = drawPath(p, flipY(pts), grayLine, 1, false)
    if (k % 3 === 0) arrowsFrac(p, n, [0.12, 0.88], grayArrow)
    else if (k % 3 === 1) arrowsFrac(p, n, [0.3, 0.5, 0.7], grayArrow)
  })
  cGrayU.forEach(h => drawPath(p, uCurve(h), grayLine, 1, false))
  zeroLine(p)
  cPhase.forEach((pts, i) => {
    const n = drawPath(p, pts, seriesColors[i], 2, false)
    arrowsAt(p, [n], cPhaseArrows[i], seriesColors[i])
  })
  cPhaseStarts.forEach((s, i) => startCircle(p, s, seriesColors[i]))
}

// (d)
{
  const p = phasePanel(3)
  const uppers = dGrayLoops.concat(dPhaseLoops)
  uppers.forEach((h, k) => {
    const n = drawPath(p, flipY(dLoop(h)), grayLine, 1, true)
    arrowsFrac(p, n, k % 2 ? [0.005, 0.14, 0.86] : [0.07, 0.2, 0.93], grayArrow)
  })
  dGrayLoops.forEach(h => drawPath(p, dLoop(h), grayLine, 1, true))
  zeroLine(p)
  dPhaseLoops.forEach((h, i) => {
    const n = drawPath(p, dLoop(h), seriesColors[i], 2, true)
    arrowsAt(p, [n], dPhaseArrows[i], seriesColors[i])
  })
  dPhaseStarts.forEach((s, i) => startCircle(p, s, seriesColors[i]))
  dPhaseDots.forEach(d => dot(p, d))
}

// ---------------- radial panels ----------------
const radXLab = [['r', true]]
const radYLab = [['ṙ', true]]
function radPanel(row) {
  return panel(radBox, rowTop[row], [0, 18], [-1.1, 1.1], radXTicks, radYTicks, true, radXLab, radYLab, 802)
}
function qLabel(p, pos, color, value, prefix) {
  const t = p.marks.append('text').attr('x', p.x(pos[0])).attr('y', p.y(pos[1]) + 5)
    .attr('text-anchor', 'middle').style('font-size', '15px').style('fill', color)
  if (prefix) { t.append('tspan').style('font-style', 'italic').text('Q'); t.append('tspan').text(' = ') }
  t.append('tspan').text(value)
}
function radRow(row, data, closed, arrows, starts) {
  const p = radPanel(row)
  data.forEach((pts, i) => {
    const n = drawPath(p, pts, seriesColors[i], 2, closed)
    arrowsAt(p, [n], arrows[i], seriesColors[i])
  })
  starts.forEach((s, i) => startCircle(p, s, seriesColors[i]))
  return p
}
{
  const p = radRow(0, radA, true, radAArrows, radAStarts)
  radALabels.forEach((s, i) => qLabel(p, radALabelPos[i], seriesColors[i], s, i === 4))
}
{
  const p = radPanel(1)
  drawPath(p, radBSep, '#000', 2, false)
  radB.forEach((pts, i) => {
    const n = drawPath(p, pts, seriesColors[i], 2, i < 2)
    arrowsAt(p, [n], radBArrows[i], seriesColors[i])
  })
  radBStarts.forEach((s, i) => startCircle(p, s, seriesColors[i]))
  radBLabels.forEach((s, i) => qLabel(p, radBLabelPos[i], seriesColors[i], s, i === 4))
  const t = p.marks.append('text').attr('x', p.x(11.0)).attr('y', p.y(0.103) + 5)
    .attr('text-anchor', 'middle').style('font-size', '15px').style('fill', '#000')
  t.append('tspan').style('font-style', 'italic').text('Q')
  t.append('tspan').attr('dy', 3).style('font-size', '10px').text('c')
}
{
  const p = radRow(2, radC, false, radCArrows, radCStarts)
  radCLabels.forEach((s, i) => qLabel(p, radCLabelPos[i], seriesColors[i], s, i === 4))
}
{
  const p = radRow(3, radD, true, radDArrows, radDStarts)
  radDMantissa.forEach((m, i) => {
    const t = p.marks.append('text')
      .attr('transform', `translate(${p.x(radDLabelR[i]) + 5},${p.y(0)}) rotate(-90)`)
      .attr('text-anchor', 'middle').style('font-size', '15px').style('fill', seriesColors[i])
    if (i === 4) { t.append('tspan').style('font-style', 'italic').text('Q'); t.append('tspan').text(' = ') }
    t.append('tspan').text(m + ' × 10')
    t.append('tspan').attr('dy', -6).style('font-size', '10px').text(radDExponent[i])
  })
}
</script>
</body>
</html>
